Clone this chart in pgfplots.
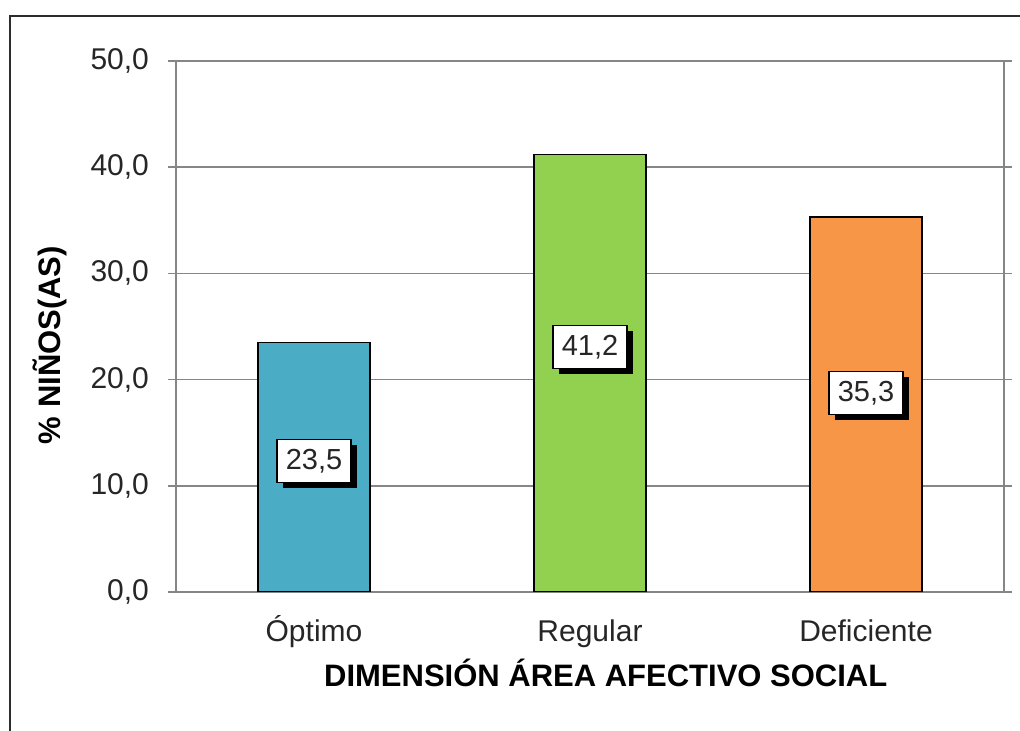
\documentclass[border=0pt]{standalone}
\usepackage{pgfplots}
\pgfplotsset{compat=1.18}
\usepackage{fontspec}
\setmainfont{Liberation Sans}
\usetikzlibrary{shadows}
\definecolor{cblue}{RGB}{75,172,198}
\definecolor{cgreen}{RGB}{146,208,80}
\definecolor{corange}{RGB}{247,150,70}
\definecolor{gridgrey}{RGB}{134,134,134}
\definecolor{framec}{RGB}{45,45,45}
\begin{document}
\begin{tikzpicture}
\path[use as bounding box] (0,0) rectangle (510pt,365.5pt);
\draw[framec, line width=1pt] (5pt,0) -- (5pt,357.5pt) -- (510pt,357.5pt);
\begin{axis}[
  at={(88pt,69.5pt)}, anchor=south west,
  scale only axis, width=414pt, height=265.5pt,
  xmin=-0.5, xmax=2.5, ymin=0, ymax=50,
  ytick={0,10,20,30,40,50},
  xtick={0,1,2}, xticklabels={Óptimo,Regular,Deficiente},
  x tick style={draw=none},
  extra x ticks={-0.5,0.5,1.5,2.5}, extra x tick labels={},
  extra x tick style={grid=none, tick style={draw=gridgrey, line width=0.75pt}},
  tick align=outside, major tick length=4pt,
  y tick style={draw=gridgrey, line width=0.75pt},
  axis line style={draw=gridgrey, line width=0.75pt},
  ymajorgrids, grid style={draw=gridgrey, line width=0.75pt},
  /pgf/number format/assume math mode=true,
  yticklabel={\pgfmathprintnumber[fixed,fixed zerofill,precision=1,use comma]{\tick}},
  tick label style={font=\fontsize{15}{18}\selectfont, text=black!85},
  xticklabel style={yshift=-6pt, text height=11pt, text depth=3pt},
  yticklabel style={xshift=-6pt},
  xlabel={DIMENSIÓN ÁREA AFECTIVO SOCIAL},
  ylabel={\% NIÑOS(AS)},
  label style={font=\fontsize{15.5}{18}\selectfont\bfseries},
  xlabel style={at={(axis description cs:0.519,-0.153)}, anchor=center},
  ylabel style={at={(axis description cs:-0.152,0.465)}, anchor=center, rotate=0},
]
\addplot[ybar, bar width=56pt, bar shift=0pt, fill=cblue, draw=black, line width=0.75pt] coordinates {(0,23.5)};
\addplot[ybar, bar width=56pt, bar shift=0pt, fill=cgreen, draw=black, line width=0.75pt] coordinates {(1,41.2)};
\addplot[ybar, bar width=56pt, bar shift=0pt, fill=corange, draw=black, line width=0.75pt] coordinates {(2,35.3)};
\addplot[draw=none, mark=none, point meta=explicit symbolic,
  nodes near coords,
  every node near coord/.append style={anchor=center, draw=black, fill=white, line width=0.6pt,
     inner sep=0pt, minimum width=37pt, minimum height=21.5pt,
     font=\fontsize{14.5}{17}\selectfont, text=black!85,
     drop shadow={shadow xshift=3pt, shadow yshift=-3pt, fill=black, opacity=1}}]
  coordinates {(0,12.34) [{23,5}] (1,23.07) [{41,2}] (2,18.74) [{35,3}]};
\end{axis}
\end{tikzpicture}
\end{document}
